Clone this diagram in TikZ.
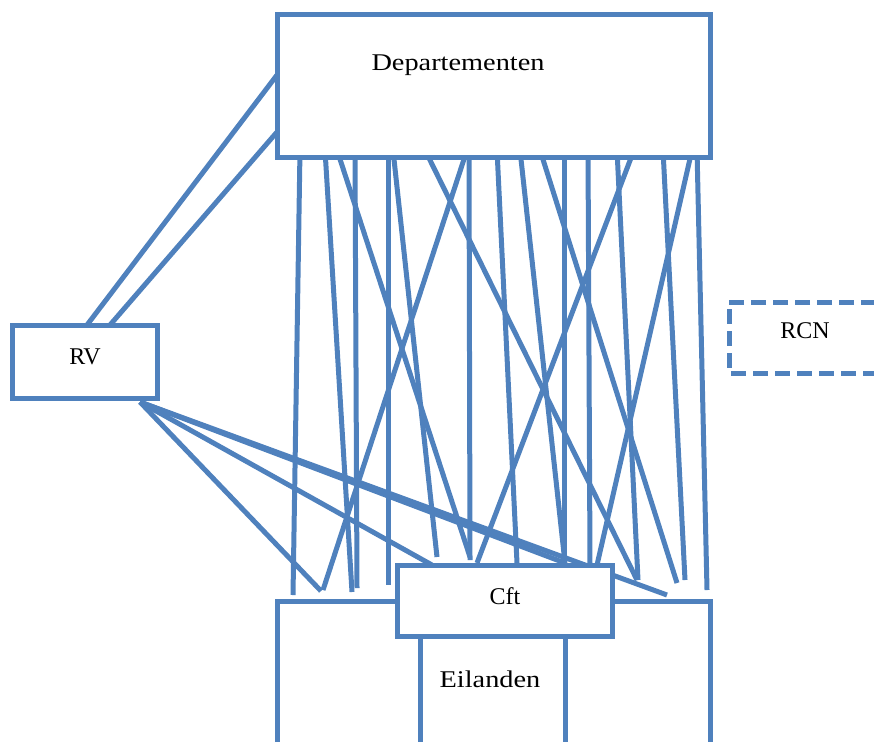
\documentclass[tikz,border=0pt]{standalone}
\usepackage{fontspec}
\setmainfont{Liberation Serif}
\newfontfamily\widefont[FakeStretch=1.18]{Liberation Serif}
\definecolor{ob}{HTML}{4F81BD}
\begin{document}
\begin{tikzpicture}[x=1pt,y=-1pt,
  conn/.style={draw=ob, line width=5pt},
  box/.style={draw=ob, line width=5pt, fill=white, inner sep=0pt},
  lbl/.style={font=\fontsize{24}{28}\selectfont, inner sep=0pt},
  wlbl/.style={font=\widefont\fontsize{24}{28}\selectfont, inner sep=0pt}]
\useasboundingbox (0,0) rectangle (874,742);
% connectors from Departementen down to Cft / Eilanden
\foreach \i/\tx/\bx/\by in {
  1/300/293/595, 2/325/352/592, 3/337/470/557, 4/355/357/588,
  5/388/388/585, 6/393/437/557, 7/425/637/580, 8/467/323/590,
  9/469/470/560, 10/497/517/563, 11/520/565/563, 12/540/677/583,
  13/564/564/565, 14/588/590/565, 15/617/638/580, 16/634/477/563,
  17/663/685/580, 18/692/597/565, 19/697/707/590}{
  \coordinate (t\i) at (\tx,150);
  \coordinate (b\i) at (\bx,\by);
  \draw[conn] (t\i) -- (b\i);
}
% RV connectors
\coordinate (rva) at (87,325);
\coordinate (rvb) at (110,325);
\coordinate (dla) at (277,75);
\coordinate (dlb) at (277,132);
\draw[conn] (rva) -- (dla);
\draw[conn] (rvb) -- (dlb);
\coordinate (rvc) at (140,402);
\coordinate (r1) at (321,591);
\coordinate (r2) at (432,565);
\coordinate (r3) at (565,563);
\coordinate (r4) at (667,595);
\foreach \e in {r1,r2,r3,r4} \draw[conn] (rvc) -- (\e);
% boxes
\node[box, minimum width=433pt, minimum height=143pt] (dep) at (493.5,85.5) {};
\node[wlbl] at (458,65) {Departementen};
\node[box, minimum width=145pt, minimum height=73pt] (rv) at (84.5,361.5) {};
\node[lbl] at (85,357) {RV};
% Eilanden frame
\draw[conn] (277,742) -- (277,601) -- (710,601) -- (710,742);
\node[box, minimum width=215pt, minimum height=71pt] (cft) at (504.5,600.5) {};
\node[lbl] at (505,596) {Cft};
\coordinate (e1) at (420,638);
\coordinate (e2) at (420,742);
\coordinate (e3) at (565,638);
\coordinate (e4) at (565,742);
\draw[conn] (e1) -- (e2);
\draw[conn] (e3) -- (e4);
\node[wlbl] at (490,679) {Eilanden};
% RCN dashed
\draw[draw=ob, line width=5pt, dash pattern=on 15pt off 7pt] (876,302) -- (729,302) -- (729,373) -- (876,373);
\node[lbl] (rcn) at (805,331) {RCN};
\end{tikzpicture}
\end{document}
